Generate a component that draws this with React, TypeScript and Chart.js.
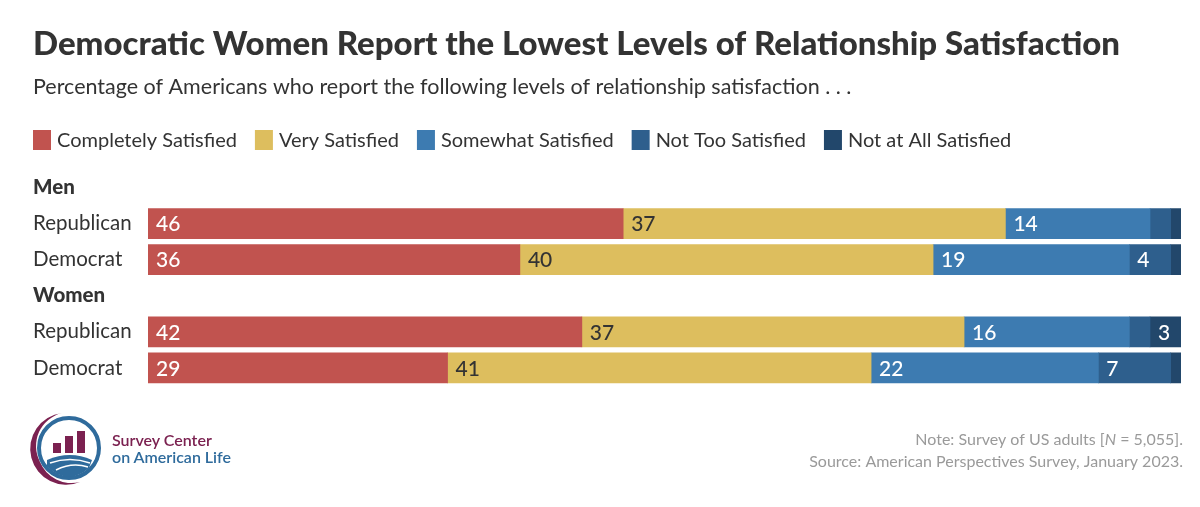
import React, { useEffect, useRef } from "react";
import { Chart, registerables } from "chart.js";

Chart.register(...registerables);

const categories = ["Men", "Republican", "Democrat", "Women", "Republican", "Democrat"];
const headerRows = [0, 3];
const seriesNames = [
  "Completely Satisfied",
  "Very Satisfied",
  "Somewhat Satisfied",
  "Not Too Satisfied",
  "Not at All Satisfied",
];
const completely = [null, 46, 36, null, 42, 29];
const very = [null, 37, 40, null, 37, 41];
const somewhat = [null, 14, 19, null, 16, 22];
const notToo = [null, 2, 4, null, 2, 7];
const notAtAll = [null, 1, 1, null, 3, 1];
const seriesColors = ["#C1534F", "#DDBE5E", "#3D7BB1", "#2E5F8D", "#22476B"];
const labelColors = ["#FFFFFF", "#333333", "#FFFFFF", "#FFFFFF", "#FFFFFF"];
const minLabelValue = 3;

const titleText = "Democratic Women Report the Lowest Levels of Relationship Satisfaction";
const subtitleText =
  "Percentage of Americans who report the following levels of relationship satisfaction . . .";
const noteParts = ["Note: Survey of US adults [", "N", " = 5,055]."];
const sourceText = "Source: American Perspectives Survey, January 2023.";

const FONT = "Lato, 'DejaVu Sans', sans-serif";

const legendPlugin = {
  id: "customLegend",
  afterDraw(chart: any) {
    const ctx = chart.ctx;
    ctx.save();
    ctx.font = `20px ${FONT}`;
    ctx.textBaseline = "middle";
    ctx.textAlign = "left";
    let x = 33;
    const y = 140;
    seriesNames.forEach((name, i) => {
      ctx.fillStyle = seriesColors[i];
      ctx.fillRect(x, y - 10, 18, 20);
      ctx.fillStyle = "#333333";
      ctx.fillText(name, x + 24, y + 1);
      x += 24 + ctx.measureText(name).width + 18;
    });
    ctx.restore();
  },
};

const footerPlugin = {
  id: "footer",
  afterDraw(chart: any) {
    const ctx = chart.ctx;
    ctx.save();
    ctx.fillStyle = "#9A9A9A";
    ctx.textBaseline = "middle";
    ctx.textAlign = "left";
    const right = 1183;
    const normal = `16px ${FONT}`;
    const italic = `italic 16px ${FONT}`;
    ctx.font = normal;
    const w0 = ctx.measureText(noteParts[0]).width;
    const w2 = ctx.measureText(noteParts[2]).width;
    ctx.font = italic;
    const w1 = ctx.measureText(noteParts[1]).width;
    let x = right - (w0 + w1 + w2);
    const y1 = 440;
    ctx.font = normal;
    ctx.fillText(noteParts[0], x, y1);
    x += w0;
    ctx.font = italic;
    ctx.fillText(noteParts[1], x, y1);
    x += w1;
    ctx.font = normal;
    ctx.fillText(noteParts[2], x, y1);
    ctx.textAlign = "right";
    ctx.fillText(sourceText, right, 462);
    ctx.restore();
  },
};

const barLabelPlugin = {
  id: "barLabels",
  afterDatasetsDraw(chart: any) {
    const ctx = chart.ctx;
    ctx.save();
    ctx.font = `500 21px ${FONT}`;
    ctx.textBaseline = "middle";
    ctx.textAlign = "left";
    chart.data.datasets.forEach((ds: any, di: number) => {
      const meta = chart.getDatasetMeta(di);
      meta.data.forEach((el: any, i: number) => {
        const v = ds.data[i];
        if (v == null || v < minLabelValue) return;
        const left = Math.min(el.base, el.x);
        ctx.fillStyle = labelColors[di];
        ctx.fillText(String(v), left + 8, el.y + 1);
      });
    });
    ctx.restore();
  },
};

function Logo() {
  return (
    <svg
      width={260}
      height={100}
      viewBox="0 0 260 100"
      style={{ position: "absolute", left: 0, top: 400 }}
    >
      <path
        d="M62 13 A36 36 0 1 0 80 82 A34 34 0 0 1 40 62 A34 34 0 0 1 62 13 Z"
        fill="#7B2150"
      />
      <circle cx="69" cy="48" r="30" fill="none" stroke="#2F6B9C" strokeWidth="4" />
      <rect x="53" y="43" width="8" height="10" fill="#7B2150" />
      <rect x="65" y="36" width="8" height="17" fill="#7B2150" />
      <rect x="77" y="31" width="8" height="22" fill="#7B2150" />
      <path d="M47 60 Q70 50 92 60 L89 68 Q80 76 70 77 Q55 76 47 66 Z" fill="#2F6B9C" />
      <path d="M50 63 Q70 56 90 63" stroke="#FFFFFF" strokeWidth="1.5" fill="none" />
      <path d="M56 70 Q72 62 88 67" stroke="#FFFFFF" strokeWidth="1.5" fill="none" />
      <text x="112" y="46" fontFamily="Lato, sans-serif" fontSize="16" fontWeight="600" fill="#7B2150">
        Survey Center
      </text>
      <text x="112" y="63" fontFamily="Lato, sans-serif" fontSize="16" fontWeight="600" fill="#2F6B9C">
        on American Life
      </text>
    </svg>
  );
}

export default function App() {
  const canvasRef = useRef<HTMLCanvasElement | null>(null);

  useEffect(() => {
    if (!canvasRef.current) return;
    const seriesData = [completely, very, somewhat, notToo, notAtAll];
    const chart = new Chart(canvasRef.current, {
      type: "bar",
      data: {
        labels: categories,
        datasets: seriesData.map((d, i) => ({
          label: seriesNames[i],
          data: d,
          backgroundColor: seriesColors[i],
          borderWidth: 0,
          barThickness: 30,
        })),
      },
      plugins: [legendPlugin, footerPlugin, barLabelPlugin],
      options: {
        animation: false,
        responsive: false,
        indexAxis: "y",
        layout: { padding: { left: 33, right: 19, top: 0, bottom: 121 } },
        scales: {
          x: { display: false, stacked: true, min: 0, max: 100 },
          y: {
            stacked: true,
            grid: { display: false },
            border: { display: false },
            afterFit(scale: any) {
              scale.width = 115;
            },
            ticks: {
              crossAlign: "far",
              padding: 0,
              color: "#333333",
              font: (c: any) => ({
                family: FONT,
                size: 20.5,
                weight: headerRows.includes(c.index) ? "900" : "normal",
              }),
            },
          },
        },
        plugins: {
          legend: { display: false },
          tooltip: { enabled: false },
          title: {
            display: true,
            text: titleText,
            align: "start",
            color: "#333333",
            font: { family: FONT, size: 33, weight: "900", lineHeight: 1.2 },
            padding: { top: 25, bottom: 0 },
          },
          subtitle: {
            display: true,
            text: subtitleText,
            align: "start",
            color: "#333333",
            font: { family: FONT, size: 21.5, weight: "normal", lineHeight: 1.2 },
            padding: { top: 10, bottom: 69 },
          },
        },
      },
    });
    return () => chart.destroy();
  }, []);

  return (
    <div
      style={{
        position: "fixed",
        left: 0,
        top: 0,
        width: 1200,
        height: 507,
        background: "#FFFFFF",
      }}
    >
      <canvas ref={canvasRef} width={1200} height={507} />
      <Logo />
    </div>
  );
}
